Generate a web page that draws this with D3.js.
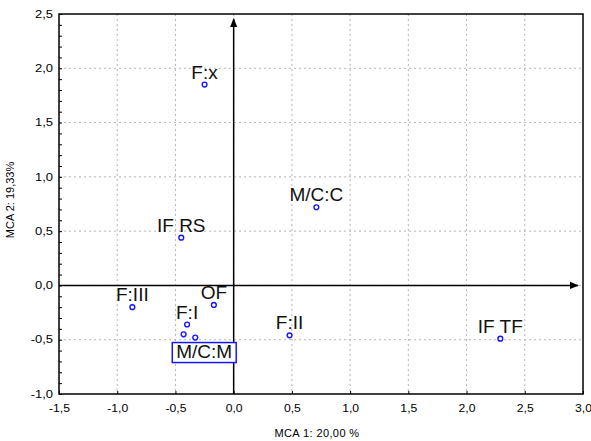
<!DOCTYPE html>
<html lang="en">
<head>
    <meta charset="UTF-8">
    <title>MCA</title>
    <style>
        body { margin: 0; background: #fff; }
        text { font-family: "Liberation Sans", Arial, sans-serif; }
    </style>
</head>
<body>
    <div id="target"></div>

    <script src="https://d3js.org/d3.v7.min.js"></script>
    <script>
        // category labels and coordinates (MCA dim 1 / dim 2)
        const labels = ["F:x", "M/C:C", "IF RS", "F:III", "OF", "F:I", "", "F:II", "IF TF", "M/C:M"];
        const mca1 = [-0.25, 0.71, -0.45, -0.87, -0.17, -0.40, -0.43, 0.48, 2.29, -0.33];
        const mca2 = [1.85, 0.72, 0.44, -0.20, -0.18, -0.36, -0.45, -0.46, -0.49, -0.48];
        const xTicks = [-1.5, -1.0, -0.5, 0.0, 0.5, 1.0, 1.5, 2.0, 2.5, 3.0];
        const yTicks = [-1.0, -0.5, 0.0, 0.5, 1.0, 1.5, 2.0, 2.5];
        const xTitle = "MCA 1: 20,00 %";
        const yTitle = "MCA 2: 19,33%";
        const boxed = "M/C:M";

        const width = 591, height = 441;
        const pL = 59, pR = 583, pT = 14, pB = 394;

        const svg = d3.select("#target").append("svg")
            .attr("width", width)
            .attr("height", height);

        const x = d3.scaleLinear().domain([-1.5, 3.0]).range([pL, pR]);
        const y = d3.scaleLinear().domain([-1.0, 2.5]).range([pB, pT]);
        const fmt = v => d3.format(".1f")(v).replace(".", ",").replace("−", "-");

        // dotted grid
        const grid = svg.append("g")
            .attr("stroke", "#b4b4b4")
            .attr("stroke-dasharray", "2,3");
        grid.selectAll(".gx").data(xTicks.slice(1, -1)).join("line")
            .attr("x1", d => x(d)).attr("x2", d => x(d))
            .attr("y1", pT).attr("y2", pB);
        grid.selectAll(".gy").data(yTicks.slice(1, -1)).join("line")
            .attr("x1", pL).attr("x2", pR)
            .attr("y1", d => y(d)).attr("y2", d => y(d));

        // left axis: minor ticks inward, labels stretched like the original
        const sx = 1.3;
        const yAxis = svg.append("g")
            .attr("transform", `translate(${pL},0)`)
            .call(d3.axisLeft(y).tickValues(d3.range(-1.0, 2.51, 0.1)).tickSize(-3).tickFormat(""));
        yAxis.select(".domain").remove();
        yAxis.selectAll("line").attr("stroke", "#000");

        const yLab = svg.append("g")
            .attr("transform", `translate(${pL},0)`)
            .call(d3.axisLeft(y).tickValues(yTicks).tickSize(0).tickPadding(6).tickFormat(fmt));
        yLab.select(".domain").remove();
        yLab.selectAll("text")
            .attr("font-size", 10)
            .attr("fill", "#000")
            .attr("x", -6 / sx)
            .attr("transform", `scale(${sx},1)`);

        const xAxis = svg.append("g")
            .attr("transform", `translate(0,${pB})`)
            .call(d3.axisBottom(x).tickValues(xTicks).tickSize(-3).tickPadding(9).tickFormat(fmt));
        xAxis.select(".domain").remove();
        xAxis.selectAll("line").attr("stroke", "#000");
        xAxis.selectAll("text")
            .attr("font-size", 10)
            .attr("fill", "#000")
            .attr("y", 11)
            .attr("transform", "scale(1.22,1)")
            .attr("text-anchor", "middle");

        // frame
        svg.append("rect")
            .attr("x", pL).attr("y", pT)
            .attr("width", pR - pL).attr("height", pB - pT)
            .attr("fill", "none")
            .attr("stroke", "#000")
            .attr("stroke-width", 1.5);

        // zero axes with arrows
        const defs = svg.append("defs");
        defs.append("marker")
            .attr("id", "arr")
            .attr("viewBox", "0 0 10 10")
            .attr("refX", 9).attr("refY", 5)
            .attr("markerWidth", 6).attr("markerHeight", 6)
            .attr("orient", "auto")
            .append("path")
            .attr("d", "M0,1 L10,5 L0,9 Z")
            .attr("fill", "#000");

        svg.append("line")
            .attr("x1", pL).attr("x2", pR - 5)
            .attr("y1", y(0)).attr("y2", y(0))
            .attr("stroke", "#000").attr("stroke-width", 1.5)
            .attr("marker-end", "url(#arr)");
        svg.append("line")
            .attr("x1", x(0)).attr("x2", x(0))
            .attr("y1", pB).attr("y2", pT + 5)
            .attr("stroke", "#000").attr("stroke-width", 1.5)
            .attr("marker-end", "url(#arr)");

        const data = labels.map((l, i) => ({ label: l, a: mca1[i], b: mca2[i] }));

        // points
        svg.append("g").selectAll("circle")
            .data(data)
            .join("circle")
            .attr("cx", d => x(d.a))
            .attr("cy", d => y(d.b))
            .attr("r", 2.4)
            .attr("fill", "#fff")
            .attr("stroke", "#1616ff")
            .attr("stroke-width", 1.4);

        // labels above points
        svg.append("g").selectAll("text")
            .data(data.filter(d => d.label && d.label !== boxed))
            .join("text")
            .attr("x", d => x(d.a))
            .attr("y", d => y(d.b) - 6)
            .attr("text-anchor", "middle")
            .attr("font-size", 19)
            .attr("fill", "#111")
            .text(d => d.label);

        // highlighted label in a box, placed below its point
        const bd = data.find(d => d.label === boxed);
        const bg = svg.append("g");
        const bt = bg.append("text")
            .attr("x", x(bd.a) + 9)
            .attr("y", y(bd.b) + 20)
            .attr("text-anchor", "middle")
            .attr("font-size", 19)
            .attr("fill", "#111")
            .text(bd.label);
        const bb = bt.node().getBBox();
        bg.insert("rect", "text")
            .attr("x", bb.x - 4).attr("y", bb.y + 2)
            .attr("width", bb.width + 8).attr("height", bb.height - 1)
            .attr("fill", "#fff")
            .attr("stroke", "#1616ff")
            .attr("stroke-width", 1.5);

        // axis titles
        svg.append("text")
            .attr("x", (pL + pR) / 2 - 4)
            .attr("y", 437)
            .attr("text-anchor", "middle")
            .attr("font-size", 11)
            .attr("letter-spacing", 0.4)
            .attr("fill", "#000")
            .text(xTitle);
        svg.append("text")
            .attr("transform", `translate(14,${(pT + pB) / 2 - 4}) rotate(-90)`)
            .attr("text-anchor", "middle")
            .attr("font-size", 11)
            .attr("fill", "#000")
            .text(yTitle);
    </script>
</body>
</html>
